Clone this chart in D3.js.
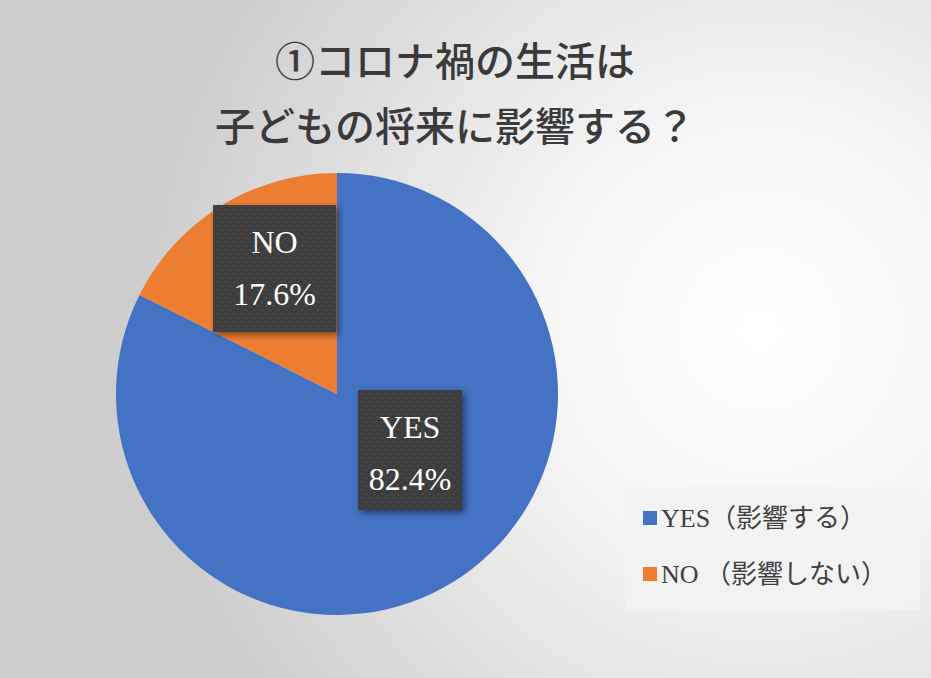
<!DOCTYPE html>
<html>
<head>
<meta charset="utf-8">
<script src="https://cdn.jsdelivr.net/npm/d3@7"></script>
<style>
  html, body { margin: 0; padding: 0; background: #fff; }
  svg { display: block; }
  .serif { font-family: 'Liberation Serif', 'Times New Roman', 'DejaVu Serif', serif; }
  .legend-text { font-family: 'Liberation Serif', 'Times New Roman', 'Noto Sans CJK JP', serif; }
  .title { font-family: 'Noto Sans CJK JP', sans-serif; }
</style>
</head>
<body>
<svg id="chart" width="931" height="678"></svg>
<script>
'use strict';

// data
var categories = ['YES', 'NO'];
var legendLabels = ['YES（影響する）', 'NO （影響しない）'];
var percentValues = [82.4, 17.6];
var titleLines = ['①コロナ禍の生活は', '子どもの将来に影響する？'];

var colors = ['#4472C4', '#ED7D31'];

var svg = d3.select('#chart');
var width = 931, height = 678;
var defs = svg.append('defs');

// background: grey with a light patch right of centre
var bg = defs.append('radialGradient')
    .attr('id', 'bg')
    .attr('gradientUnits', 'userSpaceOnUse')
    .attr('cx', 760).attr('cy', 330).attr('r', 620);
bg.append('stop').attr('offset', '0%').attr('stop-color', '#ffffff');
bg.append('stop').attr('offset', '35%').attr('stop-color', '#f6f6f6');
bg.append('stop').attr('offset', '100%').attr('stop-color', '#cdcdcd');

svg.append('rect')
    .attr('width', width).attr('height', height)
    .attr('fill', 'url(#bg)');

// dotted dark fill for the data labels
var pat = defs.append('pattern')
    .attr('id', 'dots')
    .attr('patternUnits', 'userSpaceOnUse')
    .attr('width', 8).attr('height', 8);
pat.append('rect').attr('width', 8).attr('height', 8).attr('fill', '#3d3d3d');
pat.append('circle').attr('cx', 2).attr('cy', 2).attr('r', 0.8).attr('fill', '#555');
pat.append('circle').attr('cx', 6).attr('cy', 6).attr('r', 0.8).attr('fill', '#555');

var shadow = defs.append('filter').attr('id', 'shadow')
    .attr('x', '-20%').attr('y', '-20%').attr('width', '150%').attr('height', '150%');
shadow.append('feDropShadow')
    .attr('dx', 3).attr('dy', 3).attr('stdDeviation', 3)
    .attr('flood-color', '#000').attr('flood-opacity', 0.45);

// title
svg.append('g')
    .selectAll('text')
    .data(titleLines)
    .join('text')
      .attr('class', 'title')
      .attr('x', 455)
      .attr('y', (d, i) => 76 + i * 65)
      .attr('text-anchor', 'middle')
      .attr('font-size', 40)
      .attr('font-weight', 500)
      .attr('fill', '#3a3a3a')
      .text(d => d);

// pie
var cx = 337, cy = 394, radius = 221;

var pie = d3.pie().sort(null).value(d => d);
var arcs = pie(percentValues);
var arc = d3.arc().innerRadius(0).outerRadius(radius);

var g = svg.append('g').attr('transform', `translate(${cx},${cy})`);

g.selectAll('path')
    .data(arcs)
    .join('path')
      .attr('d', arc)
      .attr('fill', (d, i) => colors[i]);

// data labels
var labelBoxes = [
  {x: 358, y: 390, w: 104, h: 120},
  {x: 213, y: 205, w: 123, h: 127}
];

var lg = svg.append('g');
var boxes = lg.selectAll('g')
    .data(arcs)
    .join('g');

boxes.append('rect')
    .attr('x', (d, i) => labelBoxes[i].x)
    .attr('y', (d, i) => labelBoxes[i].y)
    .attr('width', (d, i) => labelBoxes[i].w)
    .attr('height', (d, i) => labelBoxes[i].h)
    .attr('fill', 'url(#dots)')
    .attr('filter', 'url(#shadow)');

boxes.append('text')
    .attr('class', 'serif')
    .attr('x', (d, i) => labelBoxes[i].x + labelBoxes[i].w / 2)
    .attr('y', (d, i) => labelBoxes[i].y + 48)
    .attr('text-anchor', 'middle')
    .attr('font-size', 32)
    .attr('fill', '#fff')
    .text((d, i) => categories[i]);

boxes.append('text')
    .attr('class', 'serif')
    .attr('x', (d, i) => labelBoxes[i].x + labelBoxes[i].w / 2)
    .attr('y', (d, i) => labelBoxes[i].y + 100)
    .attr('text-anchor', 'middle')
    .attr('font-size', 32)
    .attr('fill', '#fff')
    .text(d => d3.format('.1f')(d.data) + '%');

// legend
var legend = svg.append('g');
legend.append('rect')
    .attr('x', 625).attr('y', 487)
    .attr('width', 295).attr('height', 123)
    .attr('fill', '#f2f2f2')
    .attr('fill-opacity', 0.85);

var items = legend.selectAll('g.item')
    .data(legendLabels)
    .join('g')
      .attr('class', 'item')
      .attr('transform', (d, i) => `translate(643,${518 + i * 56})`);

items.append('rect')
    .attr('x', 0).attr('y', -7)
    .attr('width', 14).attr('height', 14)
    .attr('fill', (d, i) => colors[i]);

items.append('text')
    .attr('class', 'legend-text')
    .attr('x', 18)
    .attr('y', 9)
    .attr('font-size', 26)
    .attr('fill', '#404040')
    .text(d => d);
</script>
</body>
</html>
